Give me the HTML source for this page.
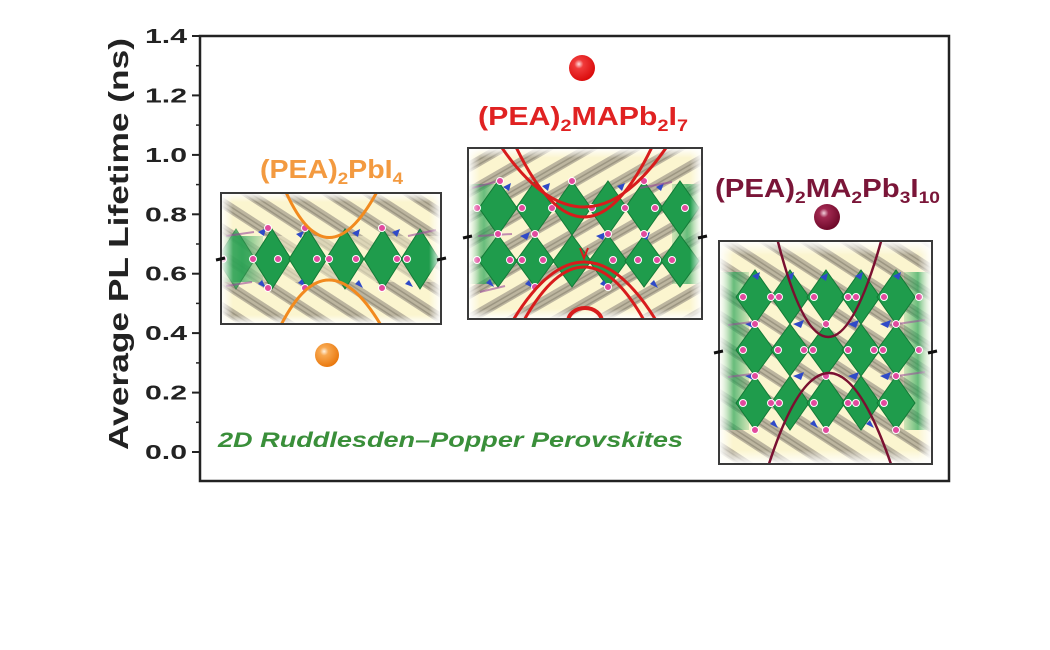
<!DOCTYPE html>
<html><head><meta charset="utf-8"><style>
html,body{margin:0;padding:0;background:#fff;}
svg{display:block;}
</style></head><body>
<svg width="1050" height="650" viewBox="0 0 1050 650" xmlns="http://www.w3.org/2000/svg">
<defs>
  <pattern id="h1" patternUnits="userSpaceOnUse" width="22" height="22" patternTransform="rotate(33)">
    <rect x="0" y="0" width="22" height="10" fill="#a29a8a" opacity="0.7"/>
    <rect x="0" y="3" width="22" height="1.5" fill="#7d7566" opacity="0.5"/>
    <rect x="0" y="7" width="22" height="1.5" fill="#7d7566" opacity="0.5"/>
  </pattern>
  <pattern id="h2" patternUnits="userSpaceOnUse" width="22" height="22" patternTransform="rotate(-30)">
    <rect x="0" y="0" width="22" height="10" fill="#a29a8a" opacity="0.7"/>
    <rect x="0" y="3" width="22" height="1.5" fill="#7d7566" opacity="0.5"/>
    <rect x="0" y="7" width="22" height="1.5" fill="#7d7566" opacity="0.5"/>
  </pattern>
  <linearGradient id="fL" x1="0" y1="0" x2="1" y2="0"><stop offset="0" stop-color="#fff" stop-opacity="1"/><stop offset="1" stop-color="#fff" stop-opacity="0"/></linearGradient>
  <linearGradient id="fR" x1="1" y1="0" x2="0" y2="0"><stop offset="0" stop-color="#fff" stop-opacity="1"/><stop offset="1" stop-color="#fff" stop-opacity="0"/></linearGradient>
  <linearGradient id="fT" x1="0" y1="0" x2="0" y2="1"><stop offset="0" stop-color="#fff" stop-opacity="1"/><stop offset="1" stop-color="#fff" stop-opacity="0"/></linearGradient>
  <linearGradient id="fB" x1="0" y1="1" x2="0" y2="0"><stop offset="0" stop-color="#fff" stop-opacity="1"/><stop offset="1" stop-color="#fff" stop-opacity="0"/></linearGradient>
  <linearGradient id="gL" x1="0" y1="0" x2="1" y2="0"><stop offset="0" stop-color="#2aa558" stop-opacity="0.15"/><stop offset="0.5" stop-color="#2aa558" stop-opacity="0.7"/><stop offset="1" stop-color="#2aa558" stop-opacity="0.2"/></linearGradient>
  <linearGradient id="gRt" x1="1" y1="0" x2="0" y2="0"><stop offset="0" stop-color="#2aa558" stop-opacity="0.15"/><stop offset="0.5" stop-color="#2aa558" stop-opacity="0.7"/><stop offset="1" stop-color="#2aa558" stop-opacity="0.2"/></linearGradient>
  <radialGradient id="gO" cx="0.38" cy="0.35" r="0.7"><stop offset="0" stop-color="#fff2e0"/><stop offset="0.25" stop-color="#f8a850"/><stop offset="1" stop-color="#e87408"/></radialGradient>
  <radialGradient id="gR" cx="0.38" cy="0.35" r="0.7"><stop offset="0" stop-color="#ffe0e0"/><stop offset="0.25" stop-color="#f03a3a"/><stop offset="1" stop-color="#d80808"/></radialGradient>
  <radialGradient id="gM" cx="0.38" cy="0.35" r="0.7"><stop offset="0" stop-color="#f2d0dc"/><stop offset="0.25" stop-color="#a02850"/><stop offset="1" stop-color="#6a0626"/></radialGradient>
  <clipPath id="c1"><rect x="221" y="193" width="220" height="131"/></clipPath>
  <clipPath id="c2"><rect x="468" y="148" width="234" height="171"/></clipPath>
  <clipPath id="c3"><rect x="719" y="241" width="213" height="223"/></clipPath>
</defs>

<rect width="1050" height="650" fill="#fff"/>

<!-- Axis frame -->
<rect x="200" y="36" width="749" height="445" fill="none" stroke="#222" stroke-width="2.5"/>

<!-- ticks -->
<g stroke="#222" stroke-width="2">
  <line x1="192" y1="36" x2="200" y2="36"/>
  <line x1="192" y1="95.4" x2="200" y2="95.4"/>
  <line x1="192" y1="154.9" x2="200" y2="154.9"/>
  <line x1="192" y1="214.3" x2="200" y2="214.3"/>
  <line x1="192" y1="273.7" x2="200" y2="273.7"/>
  <line x1="192" y1="333.1" x2="200" y2="333.1"/>
  <line x1="192" y1="392.6" x2="200" y2="392.6"/>
  <line x1="192" y1="452" x2="200" y2="452"/>
</g>
<g stroke="#222" stroke-width="1.5">
  <line x1="196" y1="65.7" x2="200" y2="65.7"/>
  <line x1="196" y1="125.1" x2="200" y2="125.1"/>
  <line x1="196" y1="184.6" x2="200" y2="184.6"/>
  <line x1="196" y1="244" x2="200" y2="244"/>
  <line x1="196" y1="303.4" x2="200" y2="303.4"/>
  <line x1="196" y1="362.9" x2="200" y2="362.9"/>
  <line x1="196" y1="422.3" x2="200" y2="422.3"/>
</g>

<g font-family="Liberation Sans, Arial, sans-serif" font-weight="bold" font-size="20" fill="#222" text-anchor="end">
  <text x="187" y="43" textLength="42" lengthAdjust="spacingAndGlyphs">1.4</text>
  <text x="187" y="102.4" textLength="42" lengthAdjust="spacingAndGlyphs">1.2</text>
  <text x="187" y="161.9" textLength="42" lengthAdjust="spacingAndGlyphs">1.0</text>
  <text x="187" y="221.3" textLength="42" lengthAdjust="spacingAndGlyphs">0.8</text>
  <text x="187" y="280.7" textLength="42" lengthAdjust="spacingAndGlyphs">0.6</text>
  <text x="187" y="340.1" textLength="42" lengthAdjust="spacingAndGlyphs">0.4</text>
  <text x="187" y="399.6" textLength="42" lengthAdjust="spacingAndGlyphs">0.2</text>
  <text x="187" y="459" textLength="42" lengthAdjust="spacingAndGlyphs">0.0</text>
</g>

<text transform="translate(128,244) rotate(-90)" font-family="Liberation Sans, Arial, sans-serif" font-weight="bold" font-size="28" fill="#222" text-anchor="middle" textLength="412" lengthAdjust="spacingAndGlyphs">Average PL Lifetime (ns)</text>

<!-- ================= BOX 1 ================= -->
<g clip-path="url(#c1)">
  <rect x="221" y="193" width="220" height="131" fill="#fbf5cf"/>
  <rect x="221" y="193" width="220" height="131" fill="url(#h1)"/>
  <rect x="221" y="236" width="220" height="46" fill="#fbf5cf" opacity="0.5"/>
  <rect x="221" y="236" width="42" height="46" fill="url(#gL)"/>
  <g fill="#1f9c4c" stroke="#137a36" stroke-width="1">
    <polygon points="236,229 255,259 236,289 217,259" opacity="0.7"/>
    <polygon points="272,229 291,259 272,289 253,259"/>
    <polygon points="308,229 327,259 308,289 289,259"/>
    <polygon points="345,229 364,259 345,289 326,259"/>
    <polygon points="383,229 402,259 383,289 364,259"/>
    <polygon points="420,229 439,259 420,289 401,259"/>
  </g>
  <g fill="#2f4ac8">
    <polygon points="258,232 266,228 264,236"/><polygon points="296,234 304,231 301,238"/><polygon points="352,233 360,229 358,237"/><polygon points="392,232 400,229 397,237"/>
    <polygon points="258,284 266,288 262,280"/><polygon points="298,283 306,287 302,279"/><polygon points="355,284 363,288 359,280"/><polygon points="405,284 413,287 409,280"/>
  </g>
  <g stroke="#9a4a9a" stroke-width="2" opacity="0.6">
    <line x1="226" y1="236" x2="254" y2="232"/><line x1="226" y1="286" x2="252" y2="282"/><line x1="408" y1="236" x2="436" y2="230"/>
  </g>
  <g fill="#e24a9e" stroke="#fff" stroke-width="1">
    <circle cx="223" cy="259" r="3.5"/><circle cx="253" cy="259" r="3.5"/><circle cx="278" cy="259" r="3.5"/><circle cx="317" cy="259" r="3.5"/><circle cx="329" cy="259" r="3.5"/><circle cx="356" cy="259" r="3.5"/><circle cx="397" cy="259" r="3.5"/><circle cx="407" cy="259" r="3.5"/>
    <circle cx="268" cy="228" r="3.5"/><circle cx="305" cy="228" r="3.5"/><circle cx="382" cy="228" r="3.5"/>
    <circle cx="268" cy="288" r="3.5"/><circle cx="305" cy="288" r="3.5"/><circle cx="382" cy="288" r="3.5"/>
  </g>
  <rect x="221" y="193" width="12" height="131" fill="url(#fL)"/>
  <rect x="429" y="193" width="12" height="131" fill="url(#fR)"/>
  <rect x="221" y="193" width="220" height="9" fill="url(#fT)"/>
  <rect x="221" y="315" width="220" height="9" fill="url(#fB)"/>
  <g fill="none" stroke="#f28a1e" stroke-width="3">
    <path d="M285,190 Q327,285 378,190"/>
    <path d="M280,327 Q327,233 382,327"/>
  </g>
</g>
<rect x="221" y="193" width="220" height="131" fill="none" stroke="#3a3a3a" stroke-width="2"/>
<g stroke="#111" stroke-width="3"><line x1="216" y1="260" x2="225" y2="258"/><line x1="437" y1="260" x2="446" y2="258"/></g>

<text x="260" y="178" font-family="Liberation Sans, Arial, sans-serif" font-weight="bold" font-size="26" fill="#f39a40" textLength="143" lengthAdjust="spacingAndGlyphs">(PEA)<tspan font-size="17" dy="6">2</tspan><tspan dy="-6">PbI</tspan><tspan font-size="17" dy="6">4</tspan></text>
<circle cx="327" cy="355" r="12" fill="url(#gO)"/>

<!-- ================= BOX 2 ================= -->
<g clip-path="url(#c2)">
  <rect x="468" y="148" width="234" height="171" fill="#fbf5cf"/>
  <rect x="468" y="148" width="234" height="171" fill="url(#h2)"/>
  <rect x="468" y="184" width="32" height="100" fill="url(#gL)"/>
  <rect x="672" y="184" width="30" height="100" fill="url(#gRt)"/>
  <g fill="#1f9c4c" stroke="#137a36" stroke-width="1">
    <polygon points="498,181 517,208 498,235 479,208"/>
    <polygon points="535,181 554,208 535,235 516,208"/>
    <polygon points="572,181 591,208 572,235 553,208"/>
    <polygon points="608,181 627,208 608,235 589,208"/>
    <polygon points="644,181 663,208 644,235 625,208"/>
    <polygon points="680,181 699,208 680,235 661,208"/>
    <polygon points="498,235 517,261 498,287 479,261"/>
    <polygon points="535,235 554,261 535,287 516,261"/>
    <polygon points="572,235 591,261 572,287 553,261"/>
    <polygon points="608,235 627,261 608,287 589,261"/>
    <polygon points="644,235 663,261 644,287 625,261"/>
    <polygon points="680,235 699,261 680,287 661,261"/>
  </g>
  <g fill="#2f4ac8">
    <polygon points="503,187 511,183 509,191"/><polygon points="542,186 550,183 548,191"/><polygon points="617,186 625,183 622,191"/><polygon points="656,187 664,183 661,191"/>
    <polygon points="520,236 530,232 527,240"/><polygon points="596,236 606,232 603,240"/><polygon points="640,236 650,232 647,240"/>
    <polygon points="486,283 494,287 490,279"/><polygon points="525,284 533,288 529,280"/><polygon points="600,284 608,288 604,280"/><polygon points="650,284 658,288 654,280"/>
  </g>
  <g stroke="#9a4a9a" stroke-width="2" opacity="0.6">
    <line x1="472" y1="188" x2="495" y2="182"/><line x1="478" y1="236" x2="512" y2="234"/><line x1="640" y1="188" x2="672" y2="182"/><line x1="480" y1="292" x2="505" y2="286"/>
  </g>
  <g fill="#e24a9e" stroke="#fff" stroke-width="1">
    <circle cx="477" cy="208" r="3.5"/><circle cx="522" cy="208" r="3.5"/><circle cx="552" cy="208" r="3.5"/><circle cx="592" cy="208" r="3.5"/><circle cx="625" cy="208" r="3.5"/><circle cx="655" cy="208" r="3.5"/><circle cx="685" cy="208" r="3.5"/>
    <circle cx="477" cy="260" r="3.5"/><circle cx="510" cy="260" r="3.5"/><circle cx="522" cy="260" r="3.5"/><circle cx="543" cy="260" r="3.5"/><circle cx="613" cy="260" r="3.5"/><circle cx="638" cy="260" r="3.5"/><circle cx="657" cy="260" r="3.5"/><circle cx="672" cy="260" r="3.5"/>
    <circle cx="498" cy="234" r="3.5"/><circle cx="535" cy="234" r="3.5"/><circle cx="608" cy="234" r="3.5"/><circle cx="644" cy="234" r="3.5"/>
    <circle cx="500" cy="181" r="3.5"/><circle cx="572" cy="181" r="3.5"/><circle cx="644" cy="181" r="3.5"/>
    <circle cx="535" cy="287" r="3.5"/><circle cx="608" cy="287" r="3.5"/>
  </g>
  <rect x="468" y="148" width="12" height="171" fill="url(#fL)"/>
  <rect x="690" y="148" width="12" height="171" fill="url(#fR)"/>
  <rect x="468" y="148" width="234" height="10" fill="url(#fT)"/>
  <rect x="468" y="309" width="234" height="10" fill="url(#fB)"/>
  <g fill="none" stroke="#d81c1c" stroke-width="3">
    <path d="M500,145 Q584,269 668,145"/>
    <path d="M515,145 Q584,289 653,145"/>
    <path d="M512,322 Q584,202 657,322"/>
    <path d="M523,322 Q584,212 645,322"/>
    <path d="M568,322 A17,14 0 0 1 602,322" stroke-width="4"/>
    <path d="M580,248 L584,258 L588,248" stroke-width="2"/>
  </g>
</g>
<rect x="468" y="148" width="234" height="171" fill="none" stroke="#3a3a3a" stroke-width="2"/>
<g stroke="#111" stroke-width="3"><line x1="463" y1="238" x2="472" y2="236"/><line x1="698" y1="238" x2="707" y2="236"/></g>

<text x="478" y="125" font-family="Liberation Sans, Arial, sans-serif" font-weight="bold" font-size="26" fill="#e02222" textLength="210" lengthAdjust="spacingAndGlyphs">(PEA)<tspan font-size="17" dy="6">2</tspan><tspan dy="-6">MAPb</tspan><tspan font-size="17" dy="6">2</tspan><tspan dy="-6">I</tspan><tspan font-size="17" dy="6">7</tspan></text>
<circle cx="582" cy="68" r="13" fill="url(#gR)"/>

<!-- ================= BOX 3 ================= -->
<g clip-path="url(#c3)">
  <rect x="719" y="241" width="213" height="223" fill="#fbf5cf"/>
  <rect x="719" y="241" width="213" height="223" fill="url(#h1)"/>
  <rect x="719" y="272" width="30" height="158" fill="url(#gL)"/>
  <rect x="904" y="272" width="28" height="158" fill="url(#gRt)"/>
  <g fill="#1f9c4c" stroke="#137a36" stroke-width="1">
    <polygon points="755,270 774,297 755,324 736,297"/>
    <polygon points="790,270 809,297 790,324 771,297"/>
    <polygon points="826,270 845,297 826,324 807,297"/>
    <polygon points="861,270 880,297 861,324 842,297"/>
    <polygon points="896,270 915,297 896,324 877,297"/>
    <polygon points="755,324 774,350 755,376 736,350"/>
    <polygon points="790,324 809,350 790,376 771,350"/>
    <polygon points="826,324 845,350 826,376 807,350"/>
    <polygon points="861,324 880,350 861,376 842,350"/>
    <polygon points="896,324 915,350 896,376 877,350"/>
    <polygon points="755,376 774,403 755,430 736,403"/>
    <polygon points="790,376 809,403 790,430 771,403"/>
    <polygon points="826,376 845,403 826,430 807,403"/>
    <polygon points="861,376 880,403 861,430 842,403"/>
    <polygon points="896,376 915,403 896,430 877,403"/>
  </g>
  <g fill="#2f4ac8">
    <polygon points="752,276 760,272 758,280"/><polygon points="786,276 794,272 792,280"/><polygon points="820,277 828,273 826,281"/><polygon points="855,276 863,272 861,280"/><polygon points="893,276 901,272 899,280"/>
    <polygon points="745,324 756,320 753,328"/><polygon points="793,324 804,320 801,328"/><polygon points="848,324 859,320 856,328"/><polygon points="880,324 891,320 888,328"/>
    <polygon points="745,376 756,372 753,380"/><polygon points="793,376 804,372 801,380"/><polygon points="848,376 859,372 856,380"/><polygon points="880,376 891,372 888,380"/>
    <polygon points="770,424 778,428 774,420"/><polygon points="810,424 818,428 814,420"/><polygon points="866,424 874,428 870,420"/>
  </g>
  <g stroke="#9a4a9a" stroke-width="2" opacity="0.55">
    <line x1="728" y1="325" x2="760" y2="321"/><line x1="890" y1="325" x2="925" y2="320"/><line x1="728" y1="377" x2="760" y2="373"/><line x1="890" y1="377" x2="925" y2="372"/>
  </g>
  <g fill="#e24a9e" stroke="#fff" stroke-width="1">
    <circle cx="743" cy="297" r="3.5"/><circle cx="771" cy="297" r="3.5"/><circle cx="779" cy="297" r="3.5"/><circle cx="814" cy="297" r="3.5"/><circle cx="848" cy="297" r="3.5"/><circle cx="856" cy="297" r="3.5"/><circle cx="884" cy="297" r="3.5"/><circle cx="919" cy="297" r="3.5"/>
    <circle cx="743" cy="350" r="3.5"/><circle cx="778" cy="350" r="3.5"/><circle cx="804" cy="350" r="3.5"/><circle cx="813" cy="350" r="3.5"/><circle cx="848" cy="350" r="3.5"/><circle cx="874" cy="350" r="3.5"/><circle cx="883" cy="350" r="3.5"/><circle cx="919" cy="350" r="3.5"/>
    <circle cx="743" cy="403" r="3.5"/><circle cx="771" cy="403" r="3.5"/><circle cx="779" cy="403" r="3.5"/><circle cx="814" cy="403" r="3.5"/><circle cx="848" cy="403" r="3.5"/><circle cx="856" cy="403" r="3.5"/><circle cx="884" cy="403" r="3.5"/>
    <circle cx="755" cy="324" r="3.5"/><circle cx="826" cy="324" r="3.5"/><circle cx="896" cy="324" r="3.5"/>
    <circle cx="755" cy="376" r="3.5"/><circle cx="826" cy="376" r="3.5"/><circle cx="896" cy="376" r="3.5"/>
    <circle cx="755" cy="430" r="3.5"/><circle cx="826" cy="430" r="3.5"/><circle cx="896" cy="430" r="3.5"/>
  </g>
  <rect x="719" y="241" width="14" height="223" fill="url(#fL)"/>
  <rect x="918" y="241" width="14" height="223" fill="url(#fR)"/>
  <rect x="719" y="241" width="213" height="14" fill="url(#fT)"/>
  <rect x="719" y="450" width="213" height="14" fill="url(#fB)"/>
  <g fill="none" stroke="#7a1030" stroke-width="2.5">
    <path d="M777,238 Q827,436 882,238"/>
    <path d="M768,467 Q828,279 892,467"/>
  </g>
</g>
<rect x="719" y="241" width="213" height="223" fill="none" stroke="#3a3a3a" stroke-width="2"/>
<g stroke="#111" stroke-width="3"><line x1="714" y1="353" x2="723" y2="351"/><line x1="928" y1="353" x2="937" y2="351"/></g>

<text x="715" y="197" font-family="Liberation Sans, Arial, sans-serif" font-weight="bold" font-size="26" fill="#7a1538" textLength="225" lengthAdjust="spacingAndGlyphs">(PEA)<tspan font-size="17" dy="6">2</tspan><tspan dy="-6">MA</tspan><tspan font-size="17" dy="6">2</tspan><tspan dy="-6">Pb</tspan><tspan font-size="17" dy="6">3</tspan><tspan dy="-6">I</tspan><tspan font-size="17" dy="6">10</tspan></text>
<circle cx="827" cy="217" r="13" fill="url(#gM)"/>

<!-- green caption -->
<text x="218" y="447" font-family="Liberation Sans, Arial, sans-serif" font-weight="bold" font-style="italic" font-size="21" fill="#3a8f3a" textLength="465" lengthAdjust="spacingAndGlyphs">2D Ruddlesden–Popper Perovskites</text>

</svg>
</body></html>
